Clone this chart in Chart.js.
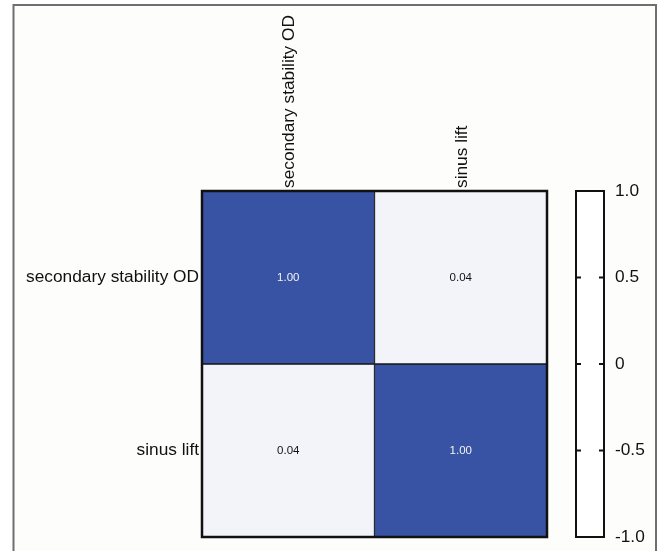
<!DOCTYPE html>
<html>
<head>
<meta charset="utf-8">
<script src="https://cdn.jsdelivr.net/npm/chart.js@4/dist/chart.umd.min.js"></script>
<style>
  html, body { margin: 0; padding: 0; background: #ffffff; }
  canvas { display: block; }
</style>
</head>
<body>
<canvas id="c" width="664" height="551"></canvas>
<script>
// ---- data ----
const rowLabels = ['secondary stability OD', 'sinus lift'];
const colLabels = ['secondary stability OD', 'sinus lift'];
const row1Values = [1.00, 0.04];
const row2Values = [0.04, 1.00];
const matrixRows = [row1Values, row2Values];
const colorbarMin = -1;
const colorbarMax = 1;
const colorbarStep = 0.5;

// ---- styling helpers ----
function cellColor(v) {
  const lo = [251, 251, 254], hi = [57, 83, 164];
  const t = Math.max(0, Math.min(1, v));
  const c = lo.map((l, i) => Math.round(l + (hi[i] - l) * t));
  return `rgb(${c[0]},${c[1]},${c[2]})`;
}

const nRows = matrixRows.length;
const datasets = matrixRows.map((vals, r) => ({
  label: rowLabels[r],
  data: vals.map(() => [nRows - 1 - r, nRows - r]),
  values: vals,
  backgroundColor: vals.map(cellColor),
  borderColor: '#151515',
  borderWidth: 1,
  borderSkipped: false,
  categoryPercentage: 1,
  barPercentage: 1,
  yAxisID: 'y',
  xAxisID: 'x'
}));

const FONT = '"Liberation Sans", Arial, sans-serif';
const LABEL_SIZE = 17.3;

const framePlugin = {
  id: 'frame',
  beforeDraw(chart) {
    const ctx = chart.ctx;
    ctx.save();
    ctx.fillStyle = '#ffffff';
    ctx.fillRect(0, 0, chart.width, chart.height);
    ctx.fillStyle = '#fdfdfc';
    ctx.fillRect(14, 5, 642, chart.height);
    ctx.strokeStyle = '#6f6f6f';
    ctx.lineWidth = 2;
    ctx.beginPath();
    ctx.moveTo(13.5, chart.height + 2);
    ctx.lineTo(13.5, 5);
    ctx.lineTo(656, 5);
    ctx.lineTo(656, chart.height + 2);
    ctx.stroke();
    ctx.restore();
  }
};

const cellPlugin = {
  id: 'cells',
  afterDatasetsDraw(chart) {
    const ctx = chart.ctx;
    ctx.save();
    const a = chart.chartArea;
    ctx.strokeStyle = '#111';
    ctx.lineWidth = 2.5;
    ctx.strokeRect(a.left, a.top, a.right - a.left, a.bottom - a.top);
    ctx.font = '11.5px ' + FONT;
    ctx.textAlign = 'center';
    ctx.textBaseline = 'middle';
    chart.data.datasets.forEach((ds, di) => {
      const meta = chart.getDatasetMeta(di);
      meta.data.forEach((el, i) => {
        const v = ds.values[i];
        ctx.fillStyle = v > 0.5 ? '#f2f2f2' : '#111';
        ctx.fillText(v.toFixed(2), el.x, (el.y + el.base) / 2);
      });
    });
    // colorbar
    const cb = chart.scales.cb;
    const x0 = 576, x1 = 604;
    const yTop = cb.getPixelForValue(colorbarMax);
    const yBot = cb.getPixelForValue(colorbarMin);
    ctx.fillStyle = '#ffffff';
    ctx.fillRect(x0, yTop, x1 - x0, yBot - yTop);
    ctx.strokeStyle = '#111';
    ctx.lineWidth = 2;
    ctx.strokeRect(x0, yTop, x1 - x0, yBot - yTop);
    cb.ticks.forEach(t => {
      if (t.value === colorbarMin || t.value === colorbarMax) return;
      const y = cb.getPixelForValue(t.value);
      ctx.beginPath();
      ctx.moveTo(x0, y); ctx.lineTo(x0 + 5, y);
      ctx.moveTo(x1 - 5, y); ctx.lineTo(x1, y);
      ctx.stroke();
    });
    ctx.restore();
  }
};

new Chart(document.getElementById('c'), {
  type: 'bar',
  data: { labels: colLabels, datasets },
  options: {
    responsive: false,
    animation: false,
    layout: { padding: { top: 0, left: 0, right: 0, bottom: 14 } },
    plugins: { legend: { display: false }, tooltip: { enabled: false } },
    scales: {
      x: {
        type: 'category',
        position: 'top',
        stacked: true,
        offset: true,
        grid: { display: false, drawTicks: false },
        border: { display: false },
        ticks: {
          autoSkip: false, minRotation: 90, maxRotation: 90, padding: 3,
          labelOffset: 22,
          color: '#111', font: { family: FONT, size: LABEL_SIZE }
        },
        afterFit(s) { s.height = 191; }
      },
      y: {
        type: 'linear', display: false, min: 0, max: nRows
      },
      yl: {
        type: 'category',
        position: 'left',
        labels: rowLabels,
        offset: true,
        grid: { display: false, drawTicks: false },
        border: { display: false },
        ticks: { padding: 3, color: '#111', font: { family: FONT, size: LABEL_SIZE } },
        afterFit(s) { s.width = 202; }
      },
      cb: {
        type: 'linear',
        position: 'right',
        min: colorbarMin, max: colorbarMax,
        grid: { display: false, drawTicks: true, tickLength: 65 },
        border: { display: false },
        ticks: {
          stepSize: colorbarStep, padding: 3, color: '#111',
          font: { family: FONT, size: LABEL_SIZE },
          callback: v => (v === 0 ? '0' : v.toFixed(1))
        },
        afterFit(s) { s.width = 117; }
      }
    }
  },
  plugins: [framePlugin, cellPlugin]
});
</script>
</body>
</html>
